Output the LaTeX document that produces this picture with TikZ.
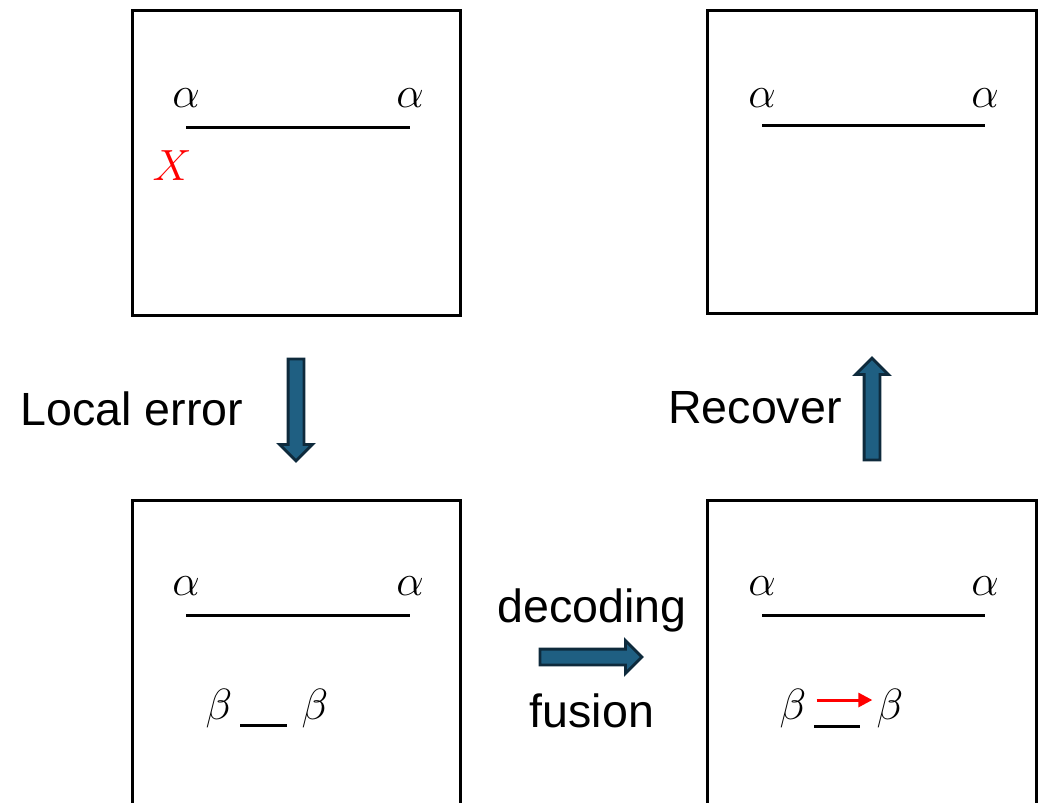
\documentclass[tikz,border=0pt]{standalone}
\usepackage{fontspec}
\setsansfont{Liberation Sans}
\usetikzlibrary{arrows.meta,positioning,shapes.arrows}
\definecolor{ArrowFill}{HTML}{1F5F82}
\definecolor{ArrowLine}{HTML}{0E2A3C}
\tikzset{>=Stealth,
 panel/.style={draw,line width=1.7pt,minimum width=6.58cm,inner sep=0pt},
 wire/.style={line width=1.7pt},
 sym/.style={font=\fontsize{28}{34}\selectfont,inner sep=0pt,anchor=base},
 lbl/.style={font=\sffamily\fontsize{26.5}{32}\selectfont,inner sep=0pt,anchor=base},
 bigarrow/.style={single arrow,draw=ArrowLine,fill=ArrowFill,line width=1.6pt,
 inner sep=0.13cm,single arrow head extend=0.17cm,minimum height=2.04cm},
 fuse/.style={red,line width=1.7pt,-{Triangle[length=8pt,width=8pt]},
 shorten <=0.2cm,shorten >=0.08cm}}
\begin{document}
\begin{tikzpicture}[x=0.02cm,y=-0.02cm]
\useasboundingbox (0,0) rectangle (1038,802);
\clip (0,0) rectangle (1038,802);
% panels
\node[panel,minimum height=6.12cm] (p1) at (296.5,163) {};
\node[panel,minimum height=6.08cm] (p2) at (872,162) {};
\node[panel,minimum height=8cm] (p3) at (296.5,700) {};
\node[panel,minimum height=8cm] (p4) at (872,700) {};
% top left
\node[sym] (a1) at (186,107) {$\alpha$};
\node[sym] (a2) at (410,107) {$\alpha$};
\draw[wire] (a1 |- 0,127) -- (a2 |- 0,127);
\node[sym,text=red] (x) at (172,180) {$X$};
% top right
\node[sym] (a3) at (762,107) {$\alpha$};
\node[sym] (a4) at (985,107) {$\alpha$};
\draw[wire] (a3 |- 0,125) -- (a4 |- 0,125);
% bottom left
\node[sym] (a5) at (186,595) {$\alpha$};
\node[sym] (a6) at (410,595) {$\alpha$};
\draw[wire] (a5 |- 0,615) -- (a6 |- 0,615);
\node[sym] (b1) at (219,719) {$\beta$};
\node[sym] (b2) at (315,719) {$\beta$};
\draw[wire] (240,725) -- (287,725);
% bottom right
\node[sym] (a7) at (762,595) {$\alpha$};
\node[sym] (a8) at (985,595) {$\alpha$};
\draw[wire] (a7 |- 0,615) -- (a8 |- 0,615);
\node[sym] (b3) at (793,719) {$\beta$};
\node[sym] (b4) at (890,719) {$\beta$};
\draw[fuse] (b3.east |- 0,700) -- (b4.west |- 0,700);
\draw[wire] (814,726) -- (860,726);
% block arrows
\node[bigarrow,shape border rotate=270] (down) at (296,406) {};
\node[bigarrow,shape border rotate=90] (up) at (872,413) {};
\node[bigarrow] (right) at (587,657) {};
\node[lbl] (t1) at (132,425) {Local error};
\node[lbl] (t2) at (755,423) {Recover};
\node[lbl] (t3) at (592,622) {decoding};
\node[lbl] (t4) at (592,727) {fusion};
\end{tikzpicture}
\end{document}
